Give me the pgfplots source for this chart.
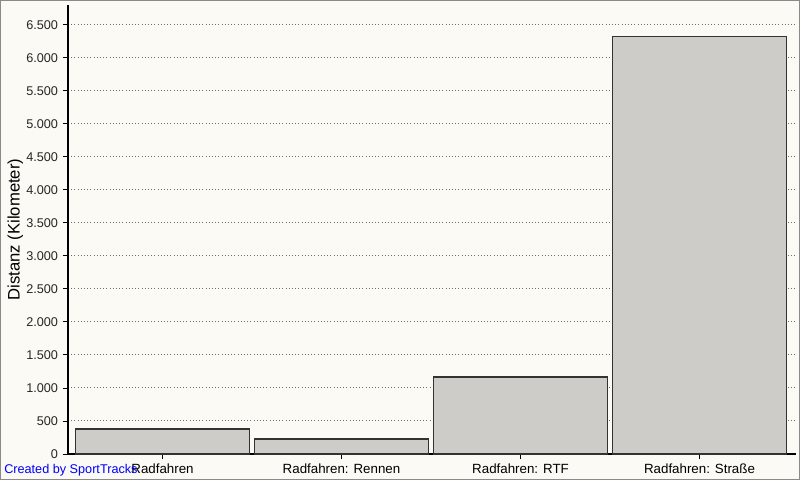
\documentclass[border=0pt]{standalone}
\usepackage{pgfplots}
\pgfplotsset{compat=1.18}
\usepackage{fontspec}
\setmainfont{Liberation Sans}
\definecolor{bgc}{HTML}{FBFAF5}
\definecolor{barc}{HTML}{CDCCC8}
\definecolor{bard}{HTML}{333333}
\definecolor{framec}{HTML}{8A8A8A}
\definecolor{gridc}{HTML}{6E6E6E}
\begin{document}
\begin{tikzpicture}
\useasboundingbox (0,0) rectangle (600pt,360pt);
\fill[bgc] (0,0) rectangle (600pt,360pt);
\draw[framec, line width=0.9pt] (0.45pt,0.45pt) rectangle (599.55pt,359.55pt);
\begin{axis}[
  at={(51pt,19.5pt)}, anchor=south west,
  scale only axis, width=546pt, height=336.75pt,
  xmin=-0.528, xmax=3.539, ymin=0, ymax=6800,
  axis lines*=left,
  axis line style={-, black, line width=0.9pt},
  ybar, bar width=131pt, bar shift=0pt,
  xtick=data,
  xticklabels={Radfahren, {Radfahren: Rennen}, {Radfahren: RTF}, {Radfahren: Straße}},
  ytick={0,500,...,6500},
  scaled y ticks=false,
  yticklabel style={/pgf/number format/.cd, fixed, 1000 sep={.}, assume math mode=true},
  tick label style={font=\fontsize{9.5}{11}\selectfont, text=black!85},
  xticklabel style={font=\fontsize{10}{11}\selectfont, text=black},
  tick align=outside,
  major tick length=4pt,
  tick style={black, line width=0.7pt},
  ymajorgrids,
  grid style={gridc, dotted, line width=0.75pt},
  ylabel={Distanz (Kilometer)},
  every axis y label/.style={at={(axis description cs:0,0.5)}, xshift=-39.5pt, rotate=90, anchor=center, font=\fontsize{12.5}{14}\selectfont},
  clip=false,
]
\addplot[fill=barc, draw=bard, line width=0.9pt] coordinates {(0,379) (1,227) (2,1167) (3,6318)};
\end{axis}
\node[anchor=west, inner sep=0pt, text=blue, font=\fontsize{9.5}{11}\selectfont] at (3pt,7.5pt) {Created by SportTracks};
\end{tikzpicture}
\end{document}
